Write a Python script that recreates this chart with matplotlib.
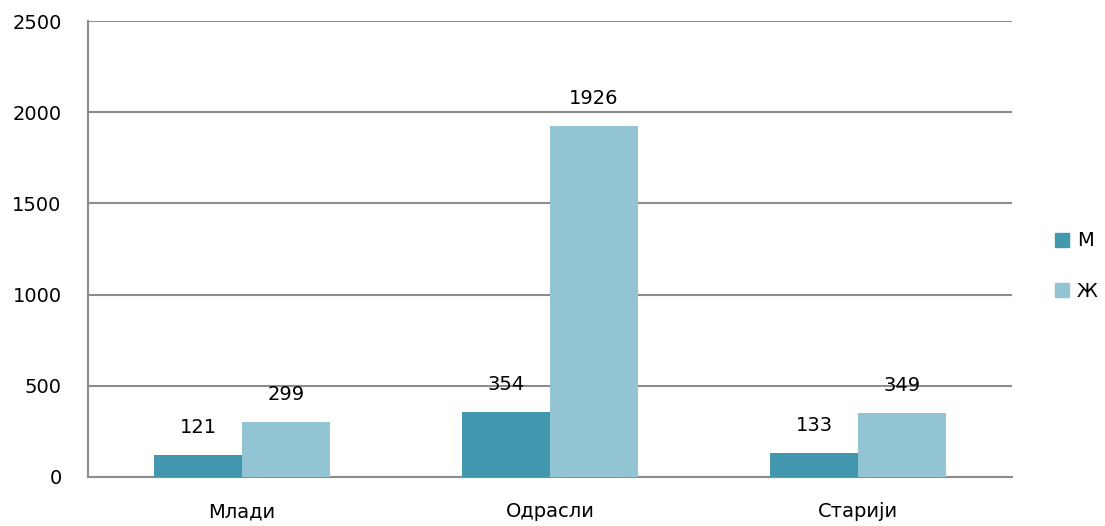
import numpy as np
import matplotlib.pyplot as plt
from matplotlib.patches import Patch

plt.rcParams['font.family'] = ['DejaVu Sans']

# Data
categories = ['Млади', 'Одрасли', 'Старији']
series_names = ['М', 'Ж']
male = [121, 354, 133]
female = [299, 1926, 349]
colors = ['#4398AF', '#93C4D4']

fig = plt.figure(figsize=(11.05, 5.26), dpi=100)
ax = fig.add_axes([88 / 1105, 1 - 477 / 526, 924 / 1105, 456 / 526])

x = np.arange(len(categories))
w = 0.2857
b1 = ax.bar(x - w / 2, male, w, color=colors[0], zorder=3)
b2 = ax.bar(x + w / 2, female, w, color=colors[1], zorder=3)

# value labels above bars
for bars in (b1, b2):
    for rect in bars:
        h = rect.get_height()
        ax.annotate(f"{int(h)}", (rect.get_x() + rect.get_width() / 2, h),
                    textcoords="offset points", xytext=(0, 13), ha='center',
                    va='bottom', fontsize=14, color='black')

ax.set_xlim(-0.5, 2.5)
ax.set_ylim(0, 2500)
ax.set_yticks(range(0, 2501, 500))
ax.set_xticks(x)
ax.set_xticklabels(categories)
ax.tick_params(axis='both', length=0, labelsize=14, colors='black')
ax.tick_params(axis='y', pad=19)
ax.tick_params(axis='x', pad=18)

ax.grid(axis='y', color='#8C8C8C', linewidth=1.5, zorder=0)
for s in ['top', 'right']:
    ax.spines[s].set_visible(False)
for s in ['left', 'bottom']:
    ax.spines[s].set_color('#8C8C8C')
    ax.spines[s].set_linewidth(1.5)

handles = [Patch(color=c) for c in colors]
fig.legend(handles, series_names, loc='center left', bbox_to_anchor=(1037 / 1105, 1 - 266 / 526),
           frameon=False, fontsize=14, handlelength=0.75, handleheight=0.75,
           handletextpad=0.4, labelspacing=1.6)

fig.savefig('out.png', dpi=100)
plt.close()
